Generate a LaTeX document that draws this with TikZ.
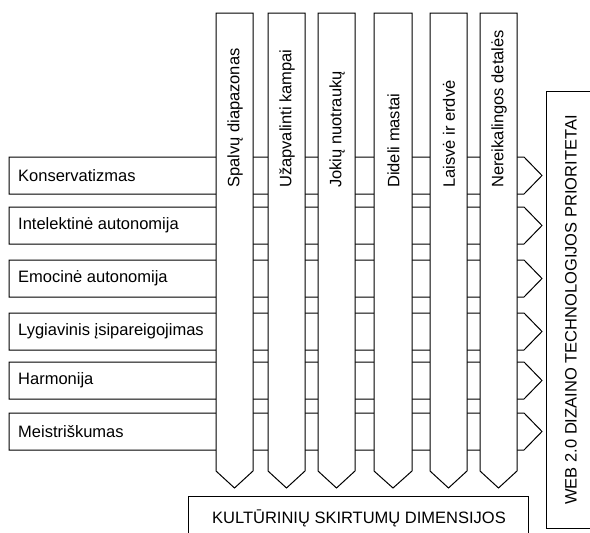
\documentclass[tikz,border=0pt]{standalone}
\usepackage{fontspec}
\setmainfont{Liberation Sans}
\begin{document}
\begin{tikzpicture}[x=1pt,y=-1pt,
  bar/.style={draw=black,fill=white,line width=1pt,line join=miter},
  lbl/.style={inner sep=0pt,font=\fontsize{16.5}{19}\selectfont,text=black}]
\useasboundingbox (0,0) rectangle (590,533);
\clip (0,0) rectangle (590,533);
% bottom box
\draw[bar] (188,560) -- (188,496) -- (528,496) -- (528,560);
\node[lbl] (kult) at (359,518) {KULTŪRINIŲ SKIRTUMŲ DIMENSIJOS};
% right box
\draw[bar] (600,91) -- (546,91) -- (546,528) -- (600,528);
\node[lbl,rotate=90] (web) at (571,310) {WEB 2.0 DIZAINO TECHNOLOGIJOS PRIORITETAI};
% horizontal bars
\foreach \t/\b/\txt [count=\i] in {157/194/Konservatizmas,207/244/Intelektinė autonomija,260/297/Emocinė autonomija,313/350/Lygiavinis įsipareigojimas,362/399/Harmonija,413/450/Meistriškumas}{
  \draw[bar] (9,\t) -- (524,\t) -- (542,{(\t+\b)/2}) -- (524,\b) -- (9,\b) -- cycle;
  \node[lbl,anchor=west] (h\i) at (18,{(\t+\b)/2}) {\txt};
}
% vertical bars
\foreach \l/\r/\txt [count=\i] in {216/253/Spalvų diapazonas,268/305/Užapvalinti kampai,318/355/Jokių nuotraukų,374/412/Dideli mastai,430/467/Laisvė ir erdvė,480/517/Nereikalingos detalės}{
  \draw[bar] (\l,13) -- (\r,13) -- (\r,471) -- ({(\l+\r)/2},488) -- (\l,471) -- cycle;
  \node[lbl,rotate=90,anchor=west] (v\i) at ({(\l+\r)/2+0.5},188) {\txt};
}
\end{tikzpicture}
\end{document}
